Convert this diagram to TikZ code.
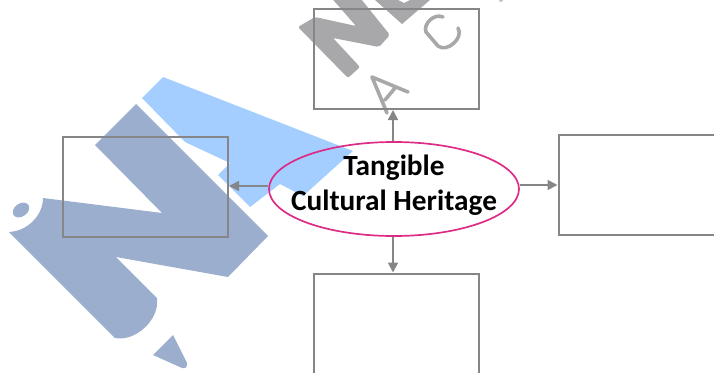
\documentclass[tikz,border=0pt]{standalone}
\usepackage{fontspec}
\setmainfont{Carlito}
\usetikzlibrary{arrows.meta,shapes.geometric}
\definecolor{boxgrey}{RGB}{134,134,136}
\definecolor{wmblue}{RGB}{155,174,206}
\definecolor{wmlight}{RGB}{163,206,255}
\definecolor{wmgrey}{RGB}{168,168,170}
\definecolor{rim}{RGB}{222,44,134}
\tikzset{
  box/.style={draw=boxgrey,line width=2pt,inner sep=0pt,minimum width=165pt,minimum height=100pt},
  link/.style={draw=boxgrey,line width=1.7pt,-{Triangle[length=10pt,width=10pt]}},
  hub/.style={ellipse,draw=rim,line width=1.7pt,minimum width=250pt,minimum height=94pt,inner sep=0pt},
  hubtext/.style={align=center,inner sep=0pt,font=\fontsize{29.3}{35}\selectfont\bfseries},
  letter/.style={draw=wmgrey,line width=3.6pt,line cap=round,line join=round},
}
\begin{document}
\begin{tikzpicture}[x=1pt,y=-1pt]
\useasboundingbox (0,0) rectangle (714,372);
% watermark, light blue band
\fill[wmlight] (163,77) -- (142,98) -- (185,142) -- (230,163) -- (218,175) -- (250,207) -- (280,184) -- (303,196) -- (353,151) -- cycle;
% watermark, pencil
\fill[wmblue] (136,104) -- (95,145) -- (162,213) -- (43,198) .. controls (43,215) and (28,231) .. (9,232) -- (115,338) .. controls (135,342) and (160,320) .. (157,298) -- (116,257) -- (228,277) -- (268,236) -- cycle;
\fill[wmblue] (173,335) -- (153,355) -- (182,368) .. controls (187,369) and (187,366) .. (187,363) -- cycle;
\fill[wmblue,rotate around={35:(21,210)}] (21,210) ellipse (9pt and 6.5pt);
% watermark, grey letters
\fill[wmgrey,rounded corners=2pt] (298,27) -- (315,17) -- (356,26) -- (328,-6) -- (357,-6) -- (390,35) -- (379,47) -- (333,38) -- (360,67) -- (348,78) -- cycle;
\fill[wmgrey] (375,0) -- (402,24) -- (430,0) -- (410,0) -- (404,3) -- (398,0) -- cycle;
\draw[letter] (387,113) -- (372,77) -- (408,92) (385,100) -- (395,88);
\draw[letter] (443,17) .. controls (434,13) and (423,24) .. (426,32) -- (438,46) .. controls (447,53) and (464,38) .. (458,28);
\fill[wmgrey!70] (501,0) circle (2pt);
% boxes
\node[box] (top) at (396,59) {};
\node[box] (left) at (145.5,187) {};
\node[box] (bottom) at (396,323.5) {};
\node[box] (right) at (641,185) {};
\node[hub] (hub) at (394,189) {};
\node[hubtext] (hublabel) at (394,185.5) {Tangible\\Cultural Heritage};
\draw[link] ([xshift=-1pt]hub.north) -- ([xshift=-3pt]top.south);
\draw[link] ([yshift=3pt]hub.west) -- ([yshift=1pt]left.east);
\draw[link] ([yshift=4pt]hub.east) -- (right.west);
\draw[link] ([xshift=-1pt]hub.south) -- ([xshift=-3pt]bottom.north);
\end{tikzpicture}
\end{document}
